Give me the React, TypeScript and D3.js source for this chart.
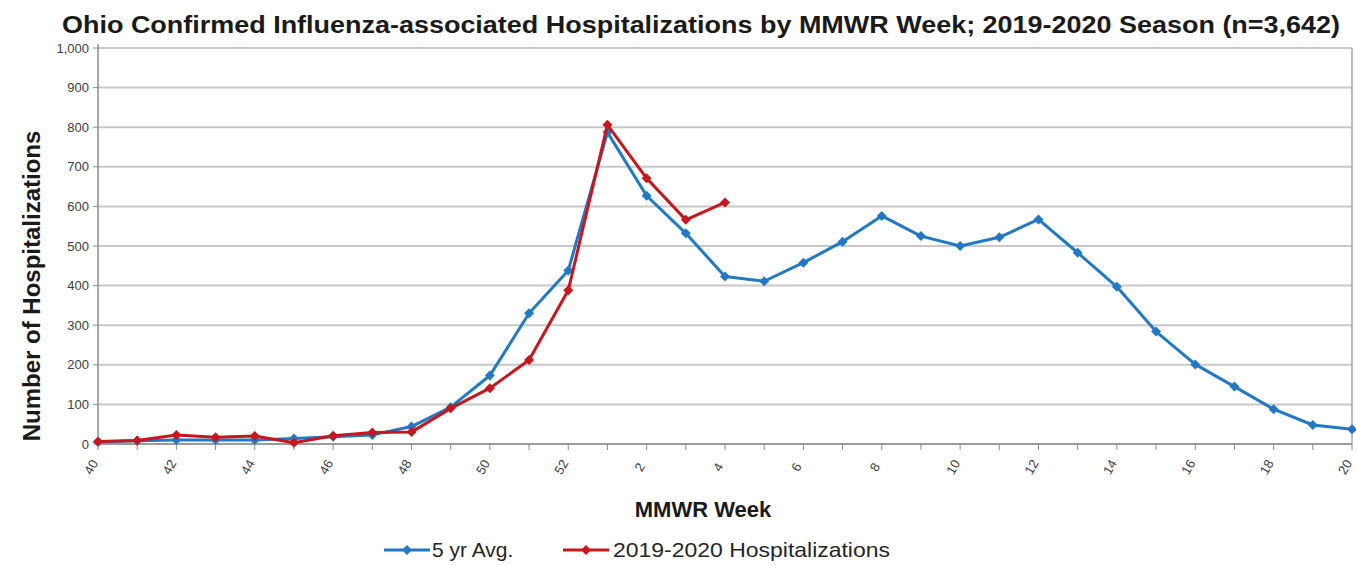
import React from 'react';
import * as d3 from 'd3';

const weeks = [40, 41, 42, 43, 44, 45, 46, 47, 48, 49, 50, 51, 52, 1, 2, 3, 4, 5, 6, 7, 8, 9, 10, 11, 12, 13, 14, 15, 16, 17, 18, 19, 20];
const avgValues = [5, 8, 10, 10, 10, 14, 18, 23, 44, 93, 173, 330, 438, 787, 627, 532, 423, 411, 458, 511, 576, 525, 500, 522, 567, 483, 397, 284, 201, 145, 88, 48, 37];
const seasonValues = [6, 9, 23, 17, 20, 3, 21, 29, 30, 90, 141, 212, 388, 806, 671, 566, 610];
const yTicks = [0, 100, 200, 300, 400, 500, 600, 700, 800, 900, 1000];
const labelWeeks = [40, 42, 44, 46, 48, 50, 52, 2, 4, 6, 8, 10, 12, 14, 16, 18, 20];

const BLUE = '#2179c4';
const RED = '#c8161d';

const width = 1356;
const height = 565;
const margin = { top: 48, right: 4, bottom: 121, left: 98 };

const x = d3.scalePoint<number>()
  .domain(weeks)
  .range([margin.left, width - margin.right]);

const y = d3.scaleLinear()
  .domain([0, 1000])
  .range([height - margin.bottom, margin.top]);

const line = d3.line<{ w: number; v: number }>()
  .x(d => x(d.w) as number)
  .y(d => y(d.v));

const diamond = (cx: number, cy: number, r = 5) =>
  `M${cx},${cy - r}L${cx + r},${cy}L${cx},${cy + r}L${cx - r},${cy}Z`;

const avgData = weeks.map((w, i) => ({ w, v: avgValues[i] }));
const seasonData = seasonValues.map((v, i) => ({ w: weeks[i], v }));

const Series: React.FC<{ data: { w: number; v: number }[]; color: string }> = ({ data, color }) => (
  <g>
    <path d={line(data) || ''} fill="none" stroke={color} strokeWidth={3} strokeLinejoin="round" />
    {data.map(d => (
      <path key={d.w} d={diamond(x(d.w) as number, y(d.v))} fill={color} />
    ))}
  </g>
);

export default function App() {
  const x0 = margin.left;
  const x1 = width - margin.right;
  const y0 = y(0);
  const yTop = y(1000);
  const font = "'Liberation Sans', Arial, sans-serif";

  return (
    <div style={{ position: 'absolute', left: 0, top: 0 }}>
      <svg width={width} height={height} style={{ display: 'block', background: '#fff' }} fontFamily={font}>
        {/* title */}
        <text x={701} y={33} textAnchor="middle" fontSize={23} fontWeight="bold" fill="#1a1a1a"
          textLength={1278} lengthAdjust="spacingAndGlyphs">
          Ohio Confirmed Influenza-associated Hospitalizations by MMWR Week; 2019-2020 Season (n=3,642)
        </text>

        {/* gridlines */}
        {yTicks.map(t => (
          <line key={t} x1={x0} x2={x1} y1={y(t)} y2={y(t)} stroke="#c8c8c8" strokeWidth={2} />
        ))}
        {/* frame */}
        <line x1={x1} x2={x1} y1={yTop} y2={y0} stroke="#a6a6a6" strokeWidth={1.5} />
        <line x1={x0} x2={x0} y1={yTop - 4} y2={y0} stroke="#8c8c8c" strokeWidth={1.5} />
        <line x1={x0} x2={x1} y1={y0} y2={y0} stroke="#8c8c8c" strokeWidth={1.5} />

        {/* y ticks and labels */}
        {yTicks.map(t => (
          <g key={t}>
            <line x1={x0 - 5} x2={x0} y1={y(t)} y2={y(t)} stroke="#8c8c8c" strokeWidth={1} />
            <text x={x0 - 9} y={y(t)} dy="0.35em" textAnchor="end" fontSize={13} fill="#404040">
              {d3.format(',')(t)}
            </text>
          </g>
        ))}

        {/* x ticks */}
        {weeks.map(w => (
          <line key={w} x1={x(w) as number} x2={x(w) as number} y1={y0} y2={y0 + 6} stroke="#8c8c8c" strokeWidth={1} />
        ))}
        {labelWeeks.map(w => (
          <text key={w} transform={`translate(${(x(w) as number) - 7},${y0 + 23}) rotate(-60)`} textAnchor="middle"
            dy="0.35em" fontSize={13} fill="#404040">
            {w}
          </text>
        ))}

        {/* axis titles */}
        <text x={703} y={517} textAnchor="middle" fontSize={22} fontWeight="bold" fill="#1a1a1a">MMWR Week</text>
        <text transform={`translate(40,${(yTop + y0) / 2 + 40}) rotate(-90)`} textAnchor="middle" fontSize={24}
          fontWeight="bold" fill="#1a1a1a">
          Number of Hospitalizations
        </text>

        {/* series */}
        <Series data={avgData} color={BLUE} />
        <Series data={seasonData} color={RED} />

        {/* legend */}
        <g transform="translate(384,550)">
          <line x1={0} x2={46} y1={0} y2={0} stroke={BLUE} strokeWidth={3} />
          <path d={diamond(23, 0)} fill={BLUE} />
          <text x={48} y={0} dy="0.35em" fontSize={21} fill="#262626">5 yr Avg.</text>
        </g>
        <g transform="translate(563,550)">
          <line x1={0} x2={46} y1={0} y2={0} stroke={RED} strokeWidth={3} />
          <path d={diamond(23, 0)} fill={RED} />
          <text x={50} y={0} dy="0.35em" fontSize={21} fill="#262626" textLength={277}
            lengthAdjust="spacingAndGlyphs">2019-2020 Hospitalizations</text>
        </g>
      </svg>
    </div>
  );
}
